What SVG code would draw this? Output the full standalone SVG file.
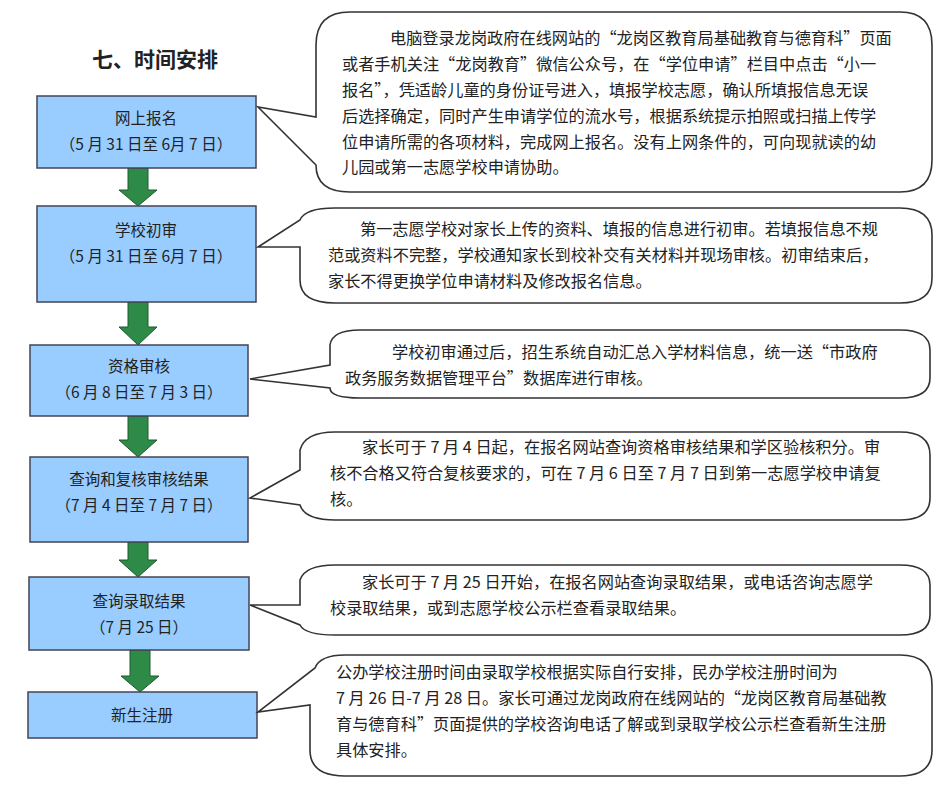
<svg xmlns="http://www.w3.org/2000/svg" width="944" height="794" viewBox="0 0 944 794">
<style>
text{font-family:"Noto Sans CJK SC","Liberation Sans",sans-serif;fill:#222}
.b{fill:#99ccff;stroke:#445;stroke-width:1.5}
.bt{font-size:15.5px;text-anchor:middle}
.c{fill:#fff;stroke:#333;stroke-width:1.6}
.ct{font-size:16.2px}
.ar{fill:#2e8b47;stroke:#1e5a30;stroke-width:1}
</style>
<rect width="944" height="794" fill="#fff"/>
<text x="155" y="67" style="font-size:21px;font-weight:bold;text-anchor:middle">七、时间安排</text>
<g id="connectors">
<path class="ar" d="M128,168 H148 V190 H157 L138,206 L119,190 H128 Z"/>
<path class="ar" d="M128,302 H148 V327 H157 L138,345 L119,327 H128 Z"/>
<path class="ar" d="M128,416 H148 V440 H157 L138,457 L119,440 H128 Z"/>
<path class="ar" d="M128,542 H148 V560 H157 L138,577 L119,560 H128 Z"/>
<path class="ar" d="M130,650 H150 V676 H159 L140,692 L121,676 H130 Z"/>
</g>
<g id="n1"><rect class="b" x="37" y="96" width="219" height="72"/><text class="bt" x="146" y="124">网上报名</text><text class="bt" x="146" y="150">（5 月 31 日至 6月 7 日）</text></g>
<g id="n2"><rect class="b" x="37" y="206" width="219" height="96"/><text class="bt" x="146" y="236">学校初审</text><text class="bt" x="146" y="262">（5 月 31 日至 6月 7 日）</text></g>
<g id="n3"><rect class="b" x="30" y="345" width="218" height="71"/><text class="bt" x="139" y="372">资格审核</text><text class="bt" x="139" y="398">（6 月 8 日至 7 月 3 日）</text></g>
<g id="n4"><rect class="b" x="30" y="457" width="218" height="85"/><text class="bt" x="139" y="485">查询和复核审核结果</text><text class="bt" x="139" y="511">（7 月 4 日至 7 月 7 日）</text></g>
<g id="n5"><rect class="b" x="29" y="577" width="220" height="73"/><text class="bt" x="139" y="607">查询录取结果</text><text class="bt" x="139" y="633">（7 月 25 日）</text></g>
<g id="n6"><rect class="b" x="28" y="692" width="229" height="46"/><text class="bt" x="142" y="721">新生注册</text></g>
<g id="c1"><path class="c" d="M350,12 H900 Q932,12 932,45 V160 Q932,192 900,192 H350 Q316,192 316,165 L258,107 L316,117 V45 Q316,12 350,12 Z"/>
<text class="ct" x="390" y="44">电脑登录龙岗政府在线网站的“龙岗区教育局基础教育与德育科”页面</text>
<text class="ct" x="342" y="70">或者手机关注“龙岗教育”微信公众号，在“学位申请”栏目中点击“小一</text>
<text class="ct" x="342" y="96">报名”，凭适龄儿童的身份证号进入，填报学校志愿，确认所填报信息无误</text>
<text class="ct" x="342" y="122">后选择确定，同时产生申请学位的流水号，根据系统提示拍照或扫描上传学</text>
<text class="ct" x="342" y="148">位申请所需的各项材料，完成网上报名。没有上网条件的，可向现就读的幼</text>
<text class="ct" x="342" y="173">儿园或第一志愿学校申请协助。</text></g>
<g id="c2"><path class="c" d="M335,208 H900 Q932,208 932,235 V278 Q932,303 900,303 H335 Q300,303 300,280 V247 L258,247 L300,220 Q305,208 335,208 Z"/>
<text class="ct" x="360" y="235">第一志愿学校对家长上传的资料、填报的信息进行初审。若填报信息不规</text>
<text class="ct" x="328" y="261">范或资料不完整，学校通知家长到校补交有关材料并现场审核。初审结束后，</text>
<text class="ct" x="328" y="287">家长不得更换学位申请材料及修改报名信息。</text></g>
<g id="c3"><path class="c" d="M360,330 H900 Q930,330 930,350 V378 Q930,398 900,398 H360 Q330,398 330,388 L250,379 L330,365 V345 Q332,330 360,330 Z"/>
<text class="ct" x="392" y="358">学校初审通过后，招生系统自动汇总入学材料信息，统一送“市政府</text>
<text class="ct" x="345" y="384">政务服务数据管理平台”数据库进行审核。</text></g>
<g id="c4"><path class="c" d="M335,432 H900 Q930,432 930,455 V498 Q930,520 900,520 H335 Q305,520 300,505 L250,498 L300,470 V450 Q305,432 335,432 Z"/>
<text class="ct" x="362" y="453">家长可于 7 月 4 日起，在报名网站查询资格审核结果和学区验核积分。审</text>
<text class="ct" x="330" y="479">核不合格又符合复核要求的，可在 7 月 6 日至 7 月 7 日到第一志愿学校申请复</text>
<text class="ct" x="330" y="505">核。</text></g>
<g id="c5"><path class="c" d="M335,565 H900 Q930,565 930,585 V615 Q930,635 900,635 H335 Q305,635 300,625 L250,605 L300,605 V580 Q305,565 335,565 Z"/>
<text class="ct" x="362" y="588">家长可于 7 月 25 日开始，在报名网站查询录取结果，或电话咨询志愿学</text>
<text class="ct" x="330" y="614">校录取结果，或到志愿学校公示栏查看录取结果。</text></g>
<g id="c6"><path class="c" d="M345,655 H900 Q932,655 932,685 V750 Q932,776 900,776 H345 Q310,776 310,750 V705 L258,712 L315,668 Q320,655 345,655 Z"/>
<text class="ct" x="336" y="678">公办学校注册时间由录取学校根据实际自行安排，民办学校注册时间为</text>
<text class="ct" x="336" y="704">7 月 26 日-7 月 28 日。家长可通过龙岗政府在线网站的“龙岗区教育局基础教</text>
<text class="ct" x="336" y="730">育与德育科”页面提供的学校咨询电话了解或到录取学校公示栏查看新生注册</text>
<text class="ct" x="336" y="756">具体安排。</text></g>
</svg>
